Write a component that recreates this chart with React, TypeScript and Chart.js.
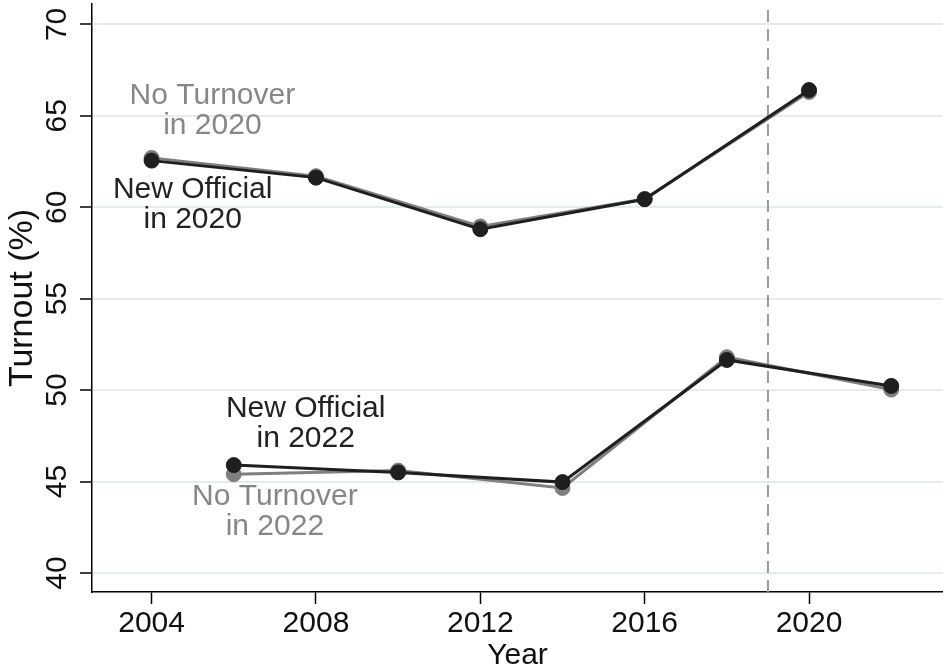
import React, { useEffect, useRef } from "react";
import { Chart, registerables } from "chart.js";

Chart.register(...registerables);

// ---- data ----
const years2020 = [2004, 2008, 2012, 2016, 2020];
const noTurnover2020 = [62.7, 61.7, 58.95, 60.45, 66.3];
const newOfficial2020 = [62.55, 61.62, 58.8, 60.44, 66.41];

const years2022 = [2006, 2010, 2014, 2018, 2022];
const noTurnover2022 = [45.4, 45.6, 44.65, 51.8, 50.03];
const newOfficial2022 = [45.9, 45.5, 44.97, 51.65, 50.23];

const xTicks = [2004, 2008, 2012, 2016, 2020];
const yTicks = [40, 45, 50, 55, 60, 65, 70];
const cutoffYear = 2019;

const labelLines = [
  ["No Turnover", "in 2020"],
  ["New Official", "in 2020"],
  ["New Official", "in 2022"],
  ["No Turnover", "in 2022"],
];
const labelX = [2005.48, 2005.0, 2007.75, 2007.0];
const labelY = [66.12, 60.95, 49.0, 44.15];
const labelIsGray = [true, false, false, true];

// ---- styles ----
const X_MIN = 2002.55;
const X_MAX = 2023.26;
const Y_MIN = 38.96;
const Y_MAX = 71.115;
const BLACK = "#1f1f1f";
const GRAY = "#7f7f7f";
const GRAY_TEXT = "#878787";
const FONT = "'Liberation Sans', Arial, Helvetica, sans-serif";

const toPoints = (xs: number[], ys: number[]) => xs.map((x, i) => ({ x, y: ys[i] }));

const zeroPad = (s: any) => {
  s.paddingTop = 0;
  s.paddingBottom = 0;
  s.paddingLeft = 0;
  s.paddingRight = 0;
};

const labelPlugin = {
  id: "seriesLabels",
  afterDatasetsDraw(chart: any) {
    const { ctx, scales } = chart;
    ctx.save();
    ctx.font = `30px ${FONT}`;
    ctx.textAlign = "center";
    ctx.textBaseline = "middle";
    labelLines.forEach((lines, i) => {
      const px = scales.x.getPixelForValue(labelX[i]);
      const py = scales.y.getPixelForValue(labelY[i]);
      ctx.fillStyle = labelIsGray[i] ? GRAY_TEXT : "#222222";
      lines.forEach((t, j) => ctx.fillText(t, px, py + j * 30));
    });
    ctx.restore();
  },
};

export default function App() {
  const ref = useRef<HTMLCanvasElement | null>(null);

  useEffect(() => {
    if (!ref.current) return;
    Chart.defaults.font.family = FONT;
    const lineDs = (label: string, xs: number[], ys: number[], color: string, order: number) => ({
      label,
      data: toPoints(xs, ys),
      borderColor: color,
      backgroundColor: color,
      pointBackgroundColor: color,
      pointBorderColor: color,
      borderWidth: 3,
      pointRadius: 7.5,
      pointBorderWidth: 1,
      showLine: true,
      tension: 0,
      order,
    });
    const chart = new Chart(ref.current, {
      type: "line",
      data: {
        datasets: [
          {
            label: "cutoff",
            data: [
              { x: cutoffYear, y: Y_MIN },
              { x: cutoffYear, y: Y_MAX },
            ],
            borderColor: "#9a9a9a",
            borderWidth: 2,
            borderDash: [12, 7],
            pointRadius: 0,
            order: 3,
          },
          lineDs("No Turnover in 2020", years2020, noTurnover2020, GRAY, 2),
          lineDs("No Turnover in 2022", years2022, noTurnover2022, GRAY, 2),
          lineDs("New Official in 2020", years2020, newOfficial2020, BLACK, 1),
          lineDs("New Official in 2022", years2022, newOfficial2022, BLACK, 1),
        ],
      },
      options: {
        responsive: false,
        animation: false,
        layout: { autoPadding: false, padding: { top: 4, left: 0, right: 0, bottom: 0 } },
        plugins: { legend: { display: false }, tooltip: { enabled: false } },
        scales: {
          x: {
            type: "linear",
            min: X_MIN,
            max: X_MAX,
            afterBuildTicks: (s: any) => {
              s.ticks = xTicks.map((v) => ({ value: v }));
            },
            afterFit: (s: any) => {
              s.height = 79;
              zeroPad(s);
            },
            ticks: {
              font: { size: 30 },
              color: "#111111",
              padding: 2,
              maxRotation: 0,
              autoSkip: false,
              callback: (v: any) => String(v),
            },
            grid: {
              drawOnChartArea: false,
              tickLength: 12,
              tickColor: "#000000",
              tickWidth: 1.5,
            },
            border: { color: "#000000", width: 1.5 },
            title: {
              display: true,
              text: "Year",
              color: "#111111",
              font: { size: 30, lineHeight: 1 },
              padding: { top: 0, bottom: 0 },
            },
          },
          y: {
            type: "linear",
            min: Y_MIN,
            max: Y_MAX,
            afterBuildTicks: (s: any) => {
              s.ticks = yTicks.map((v) => ({ value: v }));
            },
            afterFit: (s: any) => {
              s.width = 92;
              zeroPad(s);
            },
            ticks: {
              font: { size: 30 },
              color: "#111111",
              minRotation: 90,
              maxRotation: 90,
              crossAlign: "center",
              padding: 6,
              autoSkip: false,
              callback: (v: any) => String(v),
            },
            grid: {
              color: "#e4ecef",
              lineWidth: 2,
              tickLength: 12,
              tickColor: "#000000",
              tickWidth: 1.5,
            },
            border: { color: "#000000", width: 1.5 },
            title: {
              display: true,
              text: "Turnout (%)",
              color: "#111111",
              font: { size: 34, lineHeight: 1 },
              padding: { top: 6, bottom: 0 },
            },
          },
        },
      } as any,
      plugins: [labelPlugin],
    });
    return () => chart.destroy();
  }, []);

  return (
    <div style={{ position: "fixed", left: 0, top: 0, width: 943, height: 671, background: "#ffffff" }}>
      <canvas ref={ref} width={943} height={671} style={{ display: "block" }} />
    </div>
  );
}
